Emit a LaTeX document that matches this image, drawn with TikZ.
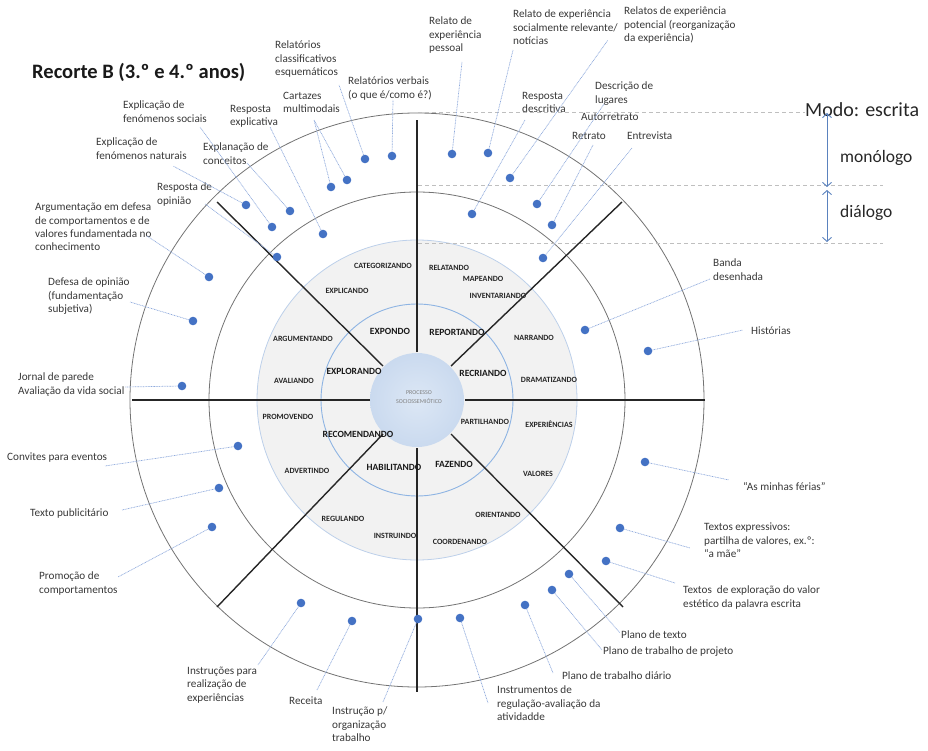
\documentclass[tikz,border=0pt]{standalone}
\usepackage{fontspec}
\setmainfont{Carlito}
\usepackage{xcolor}
\usetikzlibrary{arrows.meta}

\definecolor{genreblue}{HTML}{4472C4}
\definecolor{leadblue}{HTML}{8FAADC}
\definecolor{labelgray}{HTML}{383838}
\definecolor{ringfill}{HTML}{F2F2F2}
\definecolor{ringline}{HTML}{BDD0EA}
\definecolor{coreline}{HTML}{8EB4E3}
\definecolor{guidegray}{HTML}{BFBFBF}
\definecolor{modeblue}{HTML}{5A82BE}
\definecolor{coreA}{HTML}{DCE7F5}
\definecolor{coreB}{HTML}{C2D4EC}
\definecolor{coreC}{HTML}{E2EBF7}

\pgfdeclareradialshading{coreglow}{\pgfpointorigin}{color(0bp)=(coreA); color(36bp)=(coreB); color(45bp)=(coreC); color(50bp)=(white)}

\tikzset{
  genre/.style={circle, fill=genreblue, inner sep=0pt, minimum size=8.6pt},
  txt/.style={anchor=north west, align=left, inner sep=0pt, text=labelgray, font=\fontsize{11.2}{13.3}\selectfont},
  lead/.style={draw=leadblue, line width=0.7pt, dash pattern=on 0.9pt off 0.7pt},
  ringword/.style={inner sep=0pt, text=black!85, font=\fontsize{8}{9}\selectfont\bfseries},
  coreword/.style={inner sep=0pt, text=black!90, font=\fontsize{9.5}{11}\selectfont\bfseries},
  band/.style={draw=black!55, line width=0.8pt},
  spoke/.style={draw=black!85, line width=1.4pt},
  guide/.style={draw=guidegray, line width=0.7pt, dash pattern=on 4pt off 3pt},
  level/.style={draw=modeblue, line width=0.9pt, {Straight Barb[length=4pt,width=9pt]}-{Straight Barb[length=4pt,width=9pt]}},
}

\begin{document}
\begin{tikzpicture}[x=1pt, y=-1pt]
\useasboundingbox (0,0) rectangle (928,751);
\coordinate (c) at (417,400);

% rings
\filldraw[fill=ringfill, draw=ringline, line width=0.8pt] (c) circle (160pt);
\draw[draw=coreline, line width=0.9pt] (c) circle (96pt);
\draw[band] (c) circle (208pt);
\draw[band] (c) circle (287pt);
\shade[shading=coreglow] (c) circle (47pt);

% levels of the mode
\draw[guide] (418,112) -- (805,112);
\draw[guide] (418,185) -- (883,185);
\draw[guide] (418,243) -- (883,243);

% spokes
\draw[spoke] (417,352) -- (417,120);
\draw[spoke] (417,448) -- (417,692);
\draw[spoke] (370,400) -- (132,400);
\draw[spoke] (465,400) -- (705,400);
\draw[spoke] (383,366) -- (217,202);
\draw[spoke] (451,366) -- (622,202);
\draw[spoke] (451,434) -- (623,607);
\draw[spoke] (383,434) -- (217,607);

% title and mode
\node[anchor=west, inner sep=0pt, text=black!90, font=\fontsize{20.5}{24}\selectfont\bfseries] (recorte) at (32,72) {Recorte B (3.º e 4.º anos)};
\node[anchor=west, inner sep=0pt, text=black!85, font=\fontsize{20}{24}\selectfont] (modo) at (805,110) {Modo: escrita};
\node[anchor=west, inner sep=0pt, text=black!85, font=\fontsize{17.5}{20}\selectfont] (monologo) at (840,158) {monólogo};
\node[anchor=west, inner sep=0pt, text=black!85, font=\fontsize{17.5}{20}\selectfont] (dialogo) at (840,213) {diálogo};
\coordinate (lv1) at (827,113);
\coordinate (lv2) at (827,187);
\coordinate (lv3) at (827,190);
\coordinate (lv4) at (827,242);
\draw[level] (lv1) -- (lv2);
\draw[level] (lv3) -- (lv4);

% centre
\node[inner sep=0pt, align=center, text=black!50, font=\fontsize{6}{9}\selectfont] (processo) at (419,397.5) {PROCESSO\\SOCIOSSEMIÓTICO};

% inner ring
\node[coreword] (expondo) at (390,331) {EXPONDO};
\node[coreword] (reportando) at (457,332) {REPORTANDO};
\node[coreword] (explorando) at (354,371) {EXPLORANDO};
\node[coreword] (recriando) at (483,373) {RECRIANDO};
\node[coreword] (recomendando) at (358,434) {RECOMENDANDO};
\node[coreword] (habilitando) at (394,467) {HABILITANDO};
\node[coreword] (fazendo) at (454,464) {FAZENDO};
\node[ringword] (partilhando) at (485,422) {PARTILHANDO};

% outer ring
\node[ringword] (categorizando) at (383,266) {CATEGORIZANDO};
\node[ringword] (relatando) at (449,268) {RELATANDO};
\node[ringword] (mapeando) at (483,279) {MAPEANDO};
\node[ringword] (inventariando) at (498,296) {INVENTARIANDO};
\node[ringword] (explicando) at (347,291) {EXPLICANDO};
\node[ringword] (argumentando) at (303,339) {ARGUMENTANDO};
\node[ringword] (narrando) at (534,338) {NARRANDO};
\node[ringword] (avaliando) at (294,381) {AVALIANDO};
\node[ringword] (dramatizando) at (549,380) {DRAMATIZANDO};
\node[ringword] (promovendo) at (288,417) {PROMOVENDO};
\node[ringword] (experiencias) at (549,424) {EXPERIÊNCIAS};
\node[ringword] (advertindo) at (307,471) {ADVERTINDO};
\node[ringword] (valores) at (538,474) {VALORES};
\node[ringword] (orientando) at (498,515) {ORIENTANDO};
\node[ringword] (regulando) at (343,519) {REGULANDO};
\node[ringword] (instruindo) at (395,536) {INSTRUINDO};
\node[ringword] (coordenando) at (460,542) {COORDENANDO};

% genres
\node[txt] (pessoal) at (429,17) {Relato de\\experiência\\pessoal};
\node[txt] (relevante) at (513,10) {Relato de experiência\\socialmente relevante/\\notícias};
\node[txt] (potencial) at (624,7) {Relatos de experiência\\potencial (reorganização\\da experiência)};
\node[txt] (lugares) at (595,82) {Descrição de\\lugares};
\node[txt] (descritiva) at (522,92) {Resposta\\descritiva};
\node[txt] (autorretrato) at (581,113) {Autorretrato};
\node[txt] (retrato) at (572,132) {Retrato};
\node[txt] (entrevista) at (627,132) {Entrevista};
\node[txt] (classif) at (275,41) {Relatórios\\classificativos\\esquemáticos};
\node[txt] (verbais) at (348,77) {Relatórios verbais\\(o que é/como é?)};
\node[txt] (cartazes) at (283,92) {Cartazes\\multimodais};
\node[txt] (explicativa) at (230,105) {Resposta\\explicativa};
\node[txt] (sociais) at (123,101) {Explicação de\\fenómenos sociais};
\node[txt] (naturais) at (96,138) {Explicação de\\fenómenos naturais};
\node[txt] (conceitos) at (203,143) {Explanação de\\conceitos};
\node[txt] (opiniao) at (157,183) {Resposta de\\opinião};
\node[txt] (argumentacao) at (35,203) {Argumentação em defesa\\de comportamentos e de\\valores fundamentada no\\conhecimento};
\node[txt] (defesa) at (48,278) {Defesa de opinião\\(fundamentação\\subjetiva)};
\node[txt] (jornal) at (18,373) {Jornal de parede\\Avaliação da vida social};
\node[txt] (convites) at (7,453) {Convites para eventos};
\node[txt] (publicitario) at (30,509) {Texto publicitário};
\node[txt] (promocao) at (39,572) {Promoção de\\comportamentos};
\node[txt] (realizacao) at (187,667) {Instruções para\\realização de\\experiências};
\node[txt] (receita) at (289,697) {Receita};
\node[txt] (organizacao) at (332,707) {Instrução p/\\organização\\trabalho};
\node[txt] (regulacao) at (497,686) {Instrumentos de\\regulação-avaliação da\\atividadde};
\node[txt] (diario) at (562,672) {Plano de trabalho diário};
\node[txt] (projeto) at (603,647) {Plano de trabalho de projeto};
\node[txt] (texto) at (621,631) {Plano de texto};
\node[txt] (estetico) at (683,586) {Textos\ \ de exploração do valor\\estético da palavra escrita};
\node[txt] (expressivos) at (704,523) {Textos expressivos:\\partilha de valores, ex.º:\\“a mãe”};
\node[txt] (ferias) at (743,482) {“As minhas férias”};
\node[txt] (historias) at (751,327) {Histórias};
\node[txt] (banda) at (713,259) {Banda\\desenhada};

% dots
\node[genre] (d-pessoal) at (452,154) {};
\node[genre] (d-relevante) at (488,153) {};
\node[genre] (d-potencial) at (510,178) {};
\node[genre] (d-lugares) at (537,204) {};
\node[genre] (d-descritiva) at (472,214) {};
\node[genre] (d-retrato) at (552,225) {};
\node[genre] (d-entrevista) at (543,258) {};
\node[genre] (d-classif) at (365,159) {};
\node[genre] (d-verbais) at (392,156) {};
\node[genre] (d-cartazes) at (347,180) {};
\node[genre] (d-cartazes2) at (331,187) {};
\node[genre] (d-explicativa) at (323,234) {};
\node[genre] (d-sociais) at (272,227) {};
\node[genre] (d-naturais) at (246,205) {};
\node[genre] (d-conceitos) at (290,211) {};
\node[genre] (d-opiniao) at (277,257) {};
\node[genre] (d-argumentacao) at (209,277) {};
\node[genre] (d-defesa) at (193,321) {};
\node[genre] (d-jornal) at (182,386) {};
\node[genre] (d-convites) at (238,446) {};
\node[genre] (d-publicitario) at (219,488) {};
\node[genre] (d-promocao) at (212,527) {};
\node[genre] (d-realizacao) at (301,603) {};
\node[genre] (d-receita) at (352,621) {};
\node[genre] (d-organizacao) at (418,619) {};
\node[genre] (d-regulacao) at (460,618) {};
\node[genre] (d-diario) at (525,605) {};
\node[genre] (d-projeto) at (552,590) {};
\node[genre] (d-texto) at (569,574) {};
\node[genre] (d-estetico) at (606,561) {};
\node[genre] (d-expressivos) at (620,528) {};
\node[genre] (d-ferias) at (645,462) {};
\node[genre] (d-historias) at (648,351) {};
\node[genre] (d-banda) at (585,330) {};

% leaders
\draw[lead] (d-pessoal) -- (462,62) coordinate (e-pessoal);
\draw[lead] (d-relevante) -- (513,50) coordinate (e-relevante);
\draw[lead] (d-potencial) -- (608,40) coordinate (e-potencial);
\draw[lead] (d-lugares) -- (604,104) coordinate (e-lugares);
\draw[lead] (d-descritiva) -- (525,120) coordinate (e-descritiva);
\draw[lead] (d-retrato) -- (593,145) coordinate (e-retrato);
\draw[lead] (d-entrevista) -- (632,148) coordinate (e-entrevista);
\draw[lead] (d-classif) -- (339,85) coordinate (e-classif);
\draw[lead] (d-verbais) -- (393,100) coordinate (e-verbais);
\draw[lead] (d-cartazes) -- (314,120) coordinate (e-cartazes);
\draw[lead] (d-cartazes2) -- (e-cartazes);
\draw[lead] (d-explicativa) -- (270,127) coordinate (e-explicativa);
\draw[lead] (d-sociais) -- (200,127) coordinate (e-sociais);
\draw[lead] (d-naturais) -- (173,166) coordinate (e-naturais);
\draw[lead] (d-conceitos) -- (247,163) coordinate (e-conceitos);
\draw[lead] (d-opiniao) -- (205,204) coordinate (e-opiniao);
\draw[lead] (d-argumentacao) -- (147,236) coordinate (e-argumentacao);
\draw[lead] (d-defesa) -- (130,302) coordinate (e-defesa);
\draw[lead] (d-jornal) -- (125,387) coordinate (e-jornal);
\draw[lead] (d-convites) -- (105,466) coordinate (e-convites);
\draw[lead] (d-publicitario) -- (122,510) coordinate (e-publicitario);
\draw[lead] (d-promocao) -- (118,577) coordinate (e-promocao);
\draw[lead] (d-realizacao) -- (258,665) coordinate (e-realizacao);
\draw[lead] (d-receita) -- (317,690) coordinate (e-receita);
\draw[lead] (d-organizacao) -- (383,702) coordinate (e-organizacao);
\draw[lead] (d-regulacao) -- (488,703) coordinate (e-regulacao);
\draw[lead] (d-diario) -- (553,673) coordinate (e-diario);
\draw[lead] (d-projeto) -- (602,650) coordinate (e-projeto);
\draw[lead] (d-texto) -- (620,633) coordinate (e-texto);
\draw[lead] (d-estetico) -- (675,583) coordinate (e-estetico);
\draw[lead] (d-expressivos) -- (690,548) coordinate (e-expressivos);
\draw[lead] (d-ferias) -- (729,480) coordinate (e-ferias);
\draw[lead] (d-historias) -- (743,330) coordinate (e-historias);
\draw[lead] (d-banda) -- (710,279) coordinate (e-banda);
\end{tikzpicture}
\end{document}
